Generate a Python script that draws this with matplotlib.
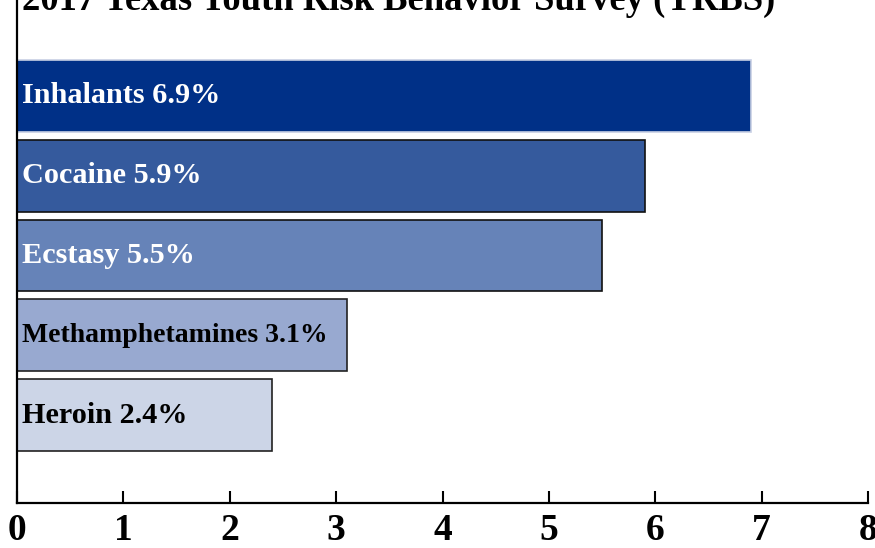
import matplotlib
matplotlib.use("Agg")
import matplotlib.pyplot as plt

categories = ["Inhalants", "Cocaine", "Ecstasy", "Methamphetamines", "Heroin"]
values = [6.9, 5.9, 5.5, 3.1, 2.4]
colors = ["#003087", "#355A9D", "#6683B8", "#98A9D0", "#CCD5E7"]
edgecolors = ["#c8d0e4", "#111111", "#111111", "#222222", "#222222"]
text_colors = ["white", "white", "white", "black", "black"]
label_sizes = [21.8, 21.8, 21.8, 20, 21.8]
title = "2017 Texas Youth Risk Behavior Survey (YRBS)"
xticks = [0, 1, 2, 3, 4, 5, 6, 7, 8]

fig = plt.figure(figsize=(8.75, 5.48), dpi=100)
ax = fig.add_axes([17/875, 45/548, 851/875, 503/548])

n = len(categories)
ypos = [n - 1 - i for i in range(n)]
for y, v, c, ec, tc, ls, cat in zip(ypos, values, colors, edgecolors, text_colors, label_sizes, categories):
    ax.barh(y, v, height=0.9, color=c, edgecolor=ec, linewidth=1.2)
    ax.text(0.05, y, f"{cat} {v}%", color=tc, fontsize=ls, fontweight="bold",
            family="Liberation Serif", va="center", ha="left")

ax.set_xlim(0, 8)
ax.set_ylim(-1.1, 5.2)
ax.set_yticks([])
ax.set_xticks(xticks)
ax.set_xticklabels([str(t) for t in xticks], fontsize=27, fontweight="bold", family="Liberation Serif")
ax.tick_params(axis="x", direction="in", length=9, width=1.5, pad=7)
for s in ["top", "right"]:
    ax.spines[s].set_visible(False)
for s in ["left", "bottom"]:
    ax.spines[s].set_linewidth(1.6)
ax.spines["left"].set_bounds(-1.1, 5.2)

fig.text(22/875, 1 - 10/548, title, fontsize=26.4, fontweight="bold", family="Liberation Serif",
         ha="left", va="baseline")

fig.savefig("out.png", dpi=100)
